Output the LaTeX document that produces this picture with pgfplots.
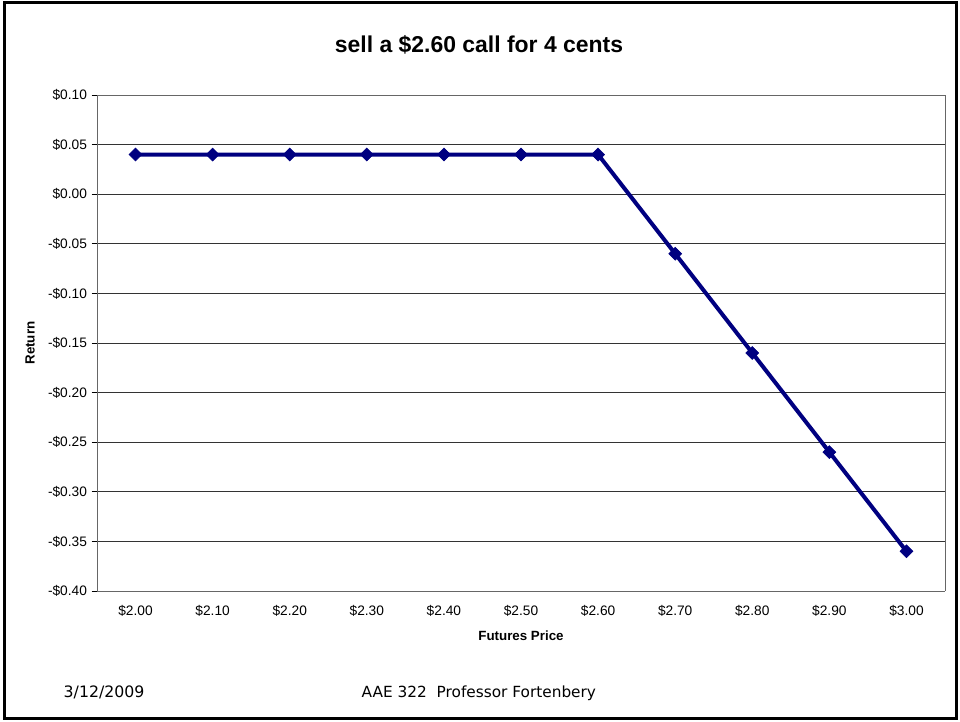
\documentclass[border=0pt]{standalone}
\usepackage{pgfplots}
\pgfplotsset{compat=1.18}
\usepackage{fontspec}
\setmainfont{Liberation Sans}
\newfontfamily\footfont{DejaVu Sans}
\definecolor{navy}{RGB}{0,0,128}
\begin{document}
\begin{tikzpicture}
\path[use as bounding box] (0,0) rectangle (720pt,540.75pt);
\draw[line width=2.25pt] (3pt,2.25pt) rectangle (717pt,538.5pt);
\node[font=\fontsize{17.2}{20}\selectfont\bfseries] at (359.25pt,507pt) {sell a \$2.60 call for 4 cents};
\node[font=\footfont\fontsize{11.8}{14}\selectfont, anchor=base west] at (44.25pt,18pt) {3/12/2009};
\node[font=\footfont\fontsize{11.5}{14}\selectfont, anchor=base west] at (267.75pt,18pt) {AAE 322\ \ Professor Fortenbery};
\begin{axis}[
  at={(72.75pt,97.5pt)}, anchor=south west,
  width=636pt, height=372pt, scale only axis,
  xmin=-0.5, xmax=10.5, ymin=-0.40, ymax=0.10,
  xtick={0,...,10},
  xticklabels={\$2.00,\$2.10,\$2.20,\$2.30,\$2.40,\$2.50,\$2.60,\$2.70,\$2.80,\$2.90,\$3.00},
  ytick={-0.40,-0.35,-0.30,-0.25,-0.20,-0.15,-0.10,-0.05,0,0.05,0.10},
  yticklabels={-\$0.40,-\$0.35,-\$0.30,-\$0.25,-\$0.20,-\$0.15,-\$0.10,-\$0.05,\$0.00,\$0.05,\$0.10},
  x tick style={draw=none},
  y tick style={black, line width=0.6pt},
  tick align=outside, major tick length=4pt,
  ymajorgrids, grid style={black!80, line width=0.6pt},
  axis line style={black!60, line width=0.6pt},
  separate axis lines,
  axis x line*=bottom, axis y line*=left,
  tick label style={font=\fontsize{10.3}{12}\selectfont},
  xticklabel style={yshift=-3pt},
  xlabel={\textbf{Futures Price}}, ylabel={\textbf{Return}},
  label style={font=\fontsize{10}{12}\selectfont},
  xlabel style={yshift=-4pt},
  ylabel style={yshift=3pt},
  clip=false,
]
\addplot[navy, line width=3pt, mark=square*, mark size=3.4pt, mark options={fill=navy, line width=0.5pt, rotate=45}]
coordinates {(0,0.04)(1,0.04)(2,0.04)(3,0.04)(4,0.04)(5,0.04)(6,0.04)(7,-0.06)(8,-0.16)(9,-0.26)(10,-0.36)};
\draw[black!60, line width=0.6pt] (axis cs:-0.5,0.10) -- (axis cs:10.5,0.10) -- (axis cs:10.5,-0.40);
\end{axis}
\end{tikzpicture}
\end{document}
